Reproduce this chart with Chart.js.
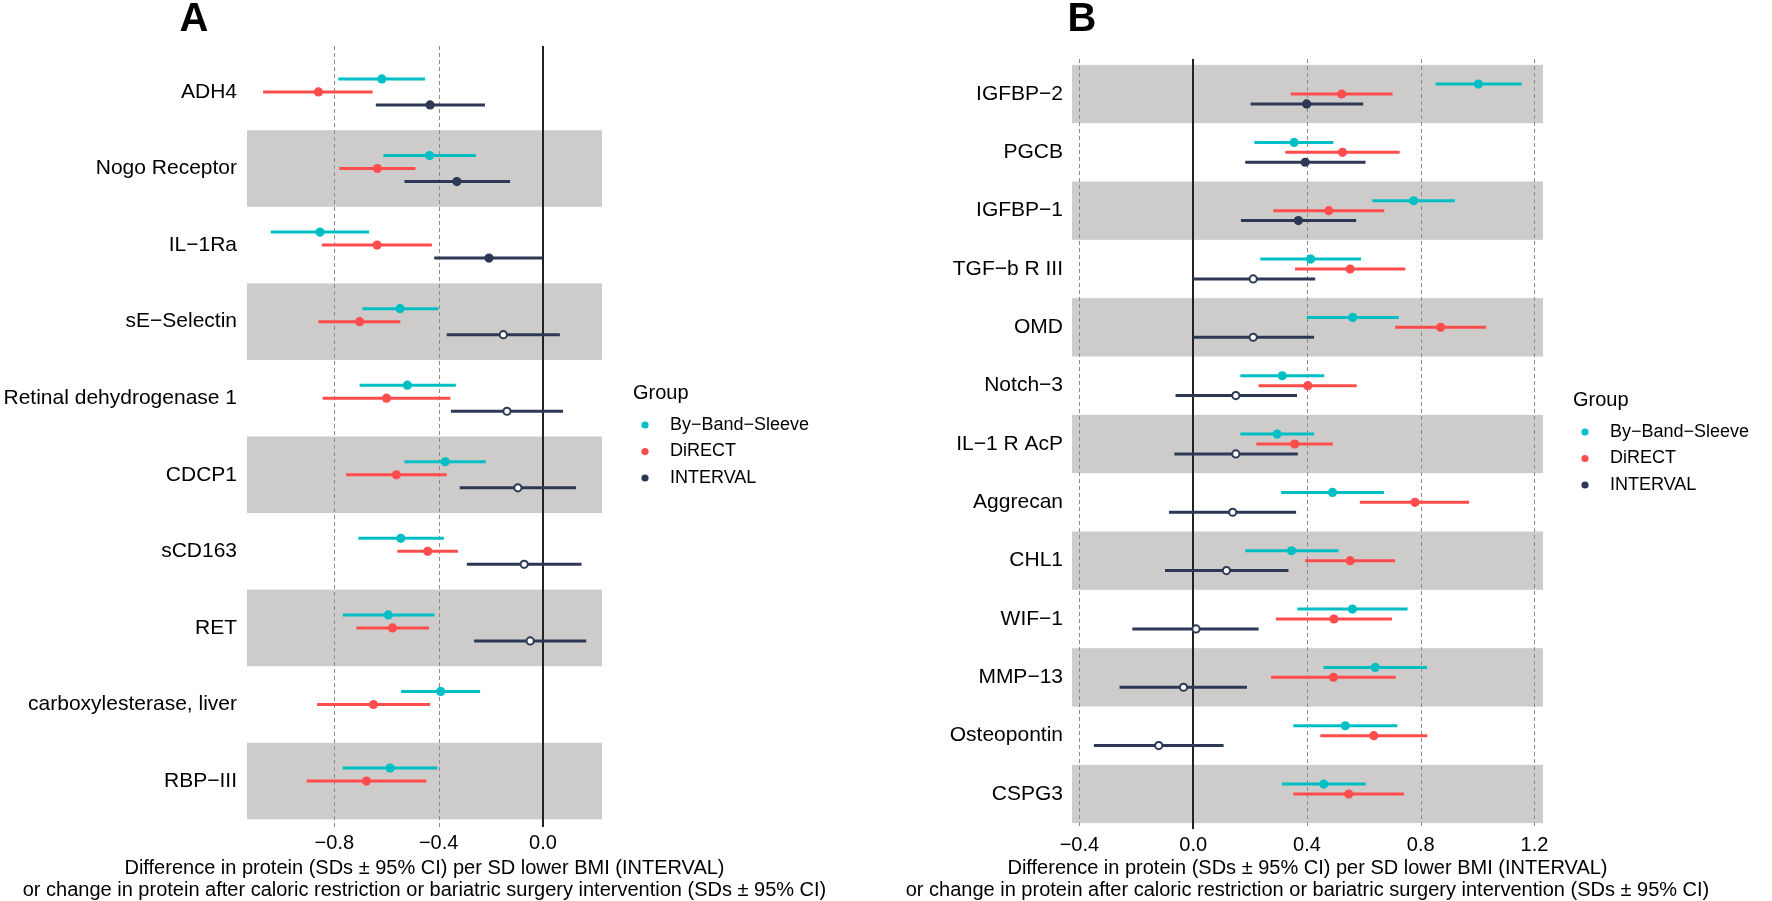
<!DOCTYPE html>
<html>
<head>
<meta charset="utf-8">
<script src="https://cdn.jsdelivr.net/npm/chart.js@4.4.1/dist/chart.umd.min.js"></script>
<style>
  html, body { margin: 0; padding: 0; background: #fff; }
  canvas { position: absolute; left: 0; top: 0; }
</style>
</head>
<body>
<canvas id="chartA" width="1772" height="901"></canvas>
<canvas id="chartB" width="1772" height="901"></canvas>
<script>
const FONT = '"Liberation Sans", Arial, sans-serif';
Chart.defaults.font.family = FONT;
Chart.defaults.color = '#000';

const groups = ['By−Band−Sleeve', 'DiRECT', 'INTERVAL'];
const groupColors = ['#00BFC4', '#FF4C4C', '#2D3856'];
const groupOffsets = [-0.17, 0, 0.17];
const xTitle = [
  'Difference in protein (SDs ± 95% CI) per SD lower BMI (INTERVAL)',
  'or change in protein after caloric restriction or bariatric surgery intervention (SDs ± 95% CI)'
];

// panel A
const proteinsA = ['ADH4', 'Nogo Receptor', 'IL−1Ra', 'sE−Selectin', 'Retinal dehydrogenase 1',
  'CDCP1', 'sCD163', 'RET', 'carboxylesterase, liver', 'RBP−III'];
const bbsEstA = [-0.618, -0.435, -0.855, -0.548, -0.520, -0.375, -0.545, -0.593, -0.392, -0.586];
const bbsLoA  = [-0.785, -0.612, -1.044, -0.692, -0.703, -0.531, -0.708, -0.768, -0.544, -0.768];
const bbsHiA  = [-0.452, -0.257, -0.667, -0.401, -0.334, -0.219, -0.380, -0.416, -0.241, -0.405];
const dirEstA = [-0.861, -0.635, -0.636, -0.703, -0.600, -0.562, -0.442, -0.577, -0.650, -0.677];
const dirLoA  = [-1.073, -0.781, -0.848, -0.861, -0.845, -0.755, -0.558, -0.716, -0.866, -0.906];
const dirHiA  = [-0.653, -0.489, -0.426, -0.547, -0.355, -0.369, -0.326, -0.437, -0.433, -0.447];
const intEstA = [-0.433, -0.330, -0.207, -0.152, -0.138, -0.096, -0.072, -0.049, null, null];
const intLoA  = [-0.641, -0.531, -0.417, -0.369, -0.353, -0.319, -0.292, -0.264, null, null];
const intHiA  = [-0.222, -0.126, -0.002, 0.065, 0.077, 0.127, 0.148, 0.166, null, null];
const intSigA = [true, true, true, false, false, false, false, false, null, null];

// panel B
const proteinsB = ['IGFBP−2', 'PGCB', 'IGFBP−1', 'TGF−b R III', 'OMD', 'Notch−3', 'IL−1 R AcP',
  'Aggrecan', 'CHL1', 'WIF−1', 'MMP−13', 'Osteopontin', 'CSPG3'];
const bbsEstB = [1.003, 0.355, 0.775, 0.413, 0.561, 0.313, 0.295, 0.490, 0.346, 0.560, 0.640, 0.535, 0.459];
const bbsLoB  = [0.852, 0.215, 0.630, 0.236, 0.399, 0.166, 0.166, 0.309, 0.183, 0.366, 0.458, 0.352, 0.312];
const bbsHiB  = [1.155, 0.493, 0.920, 0.590, 0.723, 0.461, 0.425, 0.671, 0.511, 0.754, 0.822, 0.718, 0.607];
const dirEstB = [0.522, 0.525, 0.477, 0.552, 0.870, 0.403, 0.357, 0.780, 0.552, 0.495, 0.493, 0.635, 0.547];
const dirLoB  = [0.343, 0.324, 0.282, 0.358, 0.710, 0.230, 0.222, 0.586, 0.394, 0.291, 0.274, 0.447, 0.352];
const dirHiB  = [0.701, 0.726, 0.672, 0.746, 1.030, 0.575, 0.491, 0.970, 0.710, 0.699, 0.712, 0.823, 0.741];
const intEstB = [0.399, 0.394, 0.370, 0.211, 0.211, 0.150, 0.150, 0.139, 0.117, 0.010, -0.034, -0.121, null];
const intLoB  = [0.202, 0.183, 0.168, 0.000, 0.000, -0.062, -0.066, -0.085, -0.099, -0.214, -0.259, -0.349, null];
const intHiB  = [0.598, 0.606, 0.573, 0.429, 0.425, 0.365, 0.368, 0.362, 0.335, 0.230, 0.189, 0.107, null];
const intSigB = [true, true, true, false, false, false, false, false, false, false, false, false, null];

// bands, reference lines, x title, legend and panel letter
const decor = {
  id: 'decor',
  beforeDatasetsDraw(chart, args, o) {
    const {ctx, chartArea: a, scales: {x, y}} = chart;
    ctx.save();
    ctx.fillStyle = '#CDCCCA';
    o.bands.forEach(i => {
      const p1 = y.getPixelForValue(i - 0.5), p2 = y.getPixelForValue(i + 0.5);
      const t = Math.max(a.top, Math.min(p1, p2)), b = Math.min(a.bottom, Math.max(p1, p2));
      ctx.fillRect(a.left, t, a.right - a.left, b - t);
    });
    x.ticks.forEach(t => {
      const px = Math.round(x.getPixelForValue(t.value));
      ctx.beginPath();
      if (Math.abs(t.value) < 1e-9) {
        ctx.strokeStyle = '#222'; ctx.lineWidth = 2; ctx.setLineDash([]);
      } else {
        ctx.strokeStyle = '#8c8c8c'; ctx.lineWidth = 1; ctx.setLineDash([4, 3]);
        ctx.translate(0.5, 0);
      }
      ctx.moveTo(px, a.top); ctx.lineTo(px, a.bottom); ctx.stroke();
      ctx.setTransform(1, 0, 0, 1, 0, 0);
    });
    ctx.restore();
  },
  afterDraw(chart, args, o) {
    const {ctx, chartArea: a} = chart;
    ctx.save();
    ctx.fillStyle = '#000';
    ctx.textBaseline = 'middle';
    ctx.textAlign = 'center';
    ctx.font = '20px ' + FONT;
    const cx = (a.left + a.right) / 2;
    ctx.fillText(xTitle[0], cx, o.titleY);
    ctx.fillText(xTitle[1], cx, o.titleY + 22.5);
    ctx.font = 'bold 40px ' + FONT;
    ctx.fillText(o.letter, o.letterX, o.letterY);
    ctx.textAlign = 'left';
    ctx.font = '20px ' + FONT;
    ctx.fillText('Group', o.legendX, o.legendY);
    ctx.font = '18px ' + FONT;
    groups.forEach((g, k) => {
      const ly = o.legendY + 32 + k * 26.5;
      ctx.fillStyle = groupColors[k];
      ctx.beginPath();
      ctx.arc(o.legendX + 12, ly, 3.6, 0, Math.PI * 2);
      ctx.fill();
      ctx.fillStyle = '#000';
      ctx.fillText(g, o.legendX + 37, ly);
    });
    ctx.restore();
  }
};

function makePanel(id, proteins, est, lo, hi, sig, p) {
  const bars = groups.map((g, k) => ({
    type: 'bar',
    label: g + ' CI',
    indexAxis: 'y',
    grouped: false,
    maxBarThickness: 3,
    order: 2,
    backgroundColor: groupColors[k],
    borderWidth: 0,
    data: proteins.map((_, i) => est[k][i] == null ? null : {y: i + groupOffsets[k], x: [lo[k][i], hi[k][i]]})
      .filter(d => d)
  }));
  const points = groups.map((g, k) => ({
    type: 'scatter',
    label: g,
    order: 1,
    data: proteins.map((_, i) => est[k][i] == null ? null :
      {x: est[k][i], y: i + groupOffsets[k], sig: k < 2 ? true : sig[i]}).filter(d => d),
    pointRadius: c => (c.raw && c.raw.sig === false) ? 3.6 : 4.6,
    pointBackgroundColor: c => (c.raw && c.raw.sig === false) ? '#ffffff' : groupColors[k],
    pointBorderColor: groupColors[k],
    pointBorderWidth: c => (c.raw && c.raw.sig === false) ? 2 : 0
  }));
  return new Chart(document.getElementById(id), {
    type: 'scatter',
    data: {datasets: points.concat(bars)},
    options: {
      responsive: false,
      animation: false,
      devicePixelRatio: 1,
      events: [],
      layout: {padding: {left: p.padLeft, right: 1772 - p.right, top: p.top, bottom: 0}},
      plugins: {
        legend: {display: false},
        tooltip: {enabled: false},
        decor: p.decor
      },
      scales: {
        x: {
          type: 'linear',
          offset: false,
          min: p.xMin,
          max: p.xMax,
          grid: {display: false, drawTicks: false},
          border: {display: false},
          ticks: {
            stepSize: 0.4,
            includeBounds: false,
            padding: 4,
            font: {size: 20},
            color: '#000',
            callback: v => (v < -1e-9 ? '−' : '') + Math.abs(v).toFixed(1)
          },
          afterFit: s => { s.height = 901 - p.bottom; }
        },
        y: {
          type: 'linear',
          offset: false,
          reverse: true,
          min: -0.6,
          max: proteins.length - 0.4,
          grid: {display: false, drawTicks: false},
          border: {display: false},
          afterBuildTicks: s => { s.ticks = proteins.map((_, i) => ({value: i})); },
          ticks: {
            autoSkip: false,
            padding: p.labelGap,
            font: {size: 21},
            color: '#000',
            callback: v => proteins[Math.round(v)]
          },
          afterFit: s => { s.width = p.left - p.padLeft; }
        }
      }
    },
    plugins: [decor]
  });
}

makePanel('chartA', proteinsA,
  [bbsEstA, dirEstA, intEstA], [bbsLoA, dirLoA, intLoA], [bbsHiA, dirHiA, intHiA], intSigA,
  {padLeft: 0, left: 247, right: 602, top: 46, bottom: 827, xMin: -1.135, xMax: 0.2265, labelGap: 10,
   decor: {bands: [1, 3, 5, 7, 9], titleY: 868, letter: 'A', letterX: 194, letterY: 20,
           legendX: 633, legendY: 393}});

makePanel('chartB', proteinsB,
  [bbsEstB, dirEstB, intEstB], [bbsLoB, dirLoB, intLoB], [bbsHiB, dirHiB, intHiB], intSigB,
  {padLeft: 860, left: 1072, right: 1543, top: 59, bottom: 829, xMin: -0.426, xMax: 1.230, labelGap: 9,
   decor: {bands: [0, 2, 4, 6, 8, 10, 12], titleY: 868, letter: 'B', letterX: 1082, letterY: 20,
           legendX: 1573, legendY: 400}});
</script>
</body>
</html>
